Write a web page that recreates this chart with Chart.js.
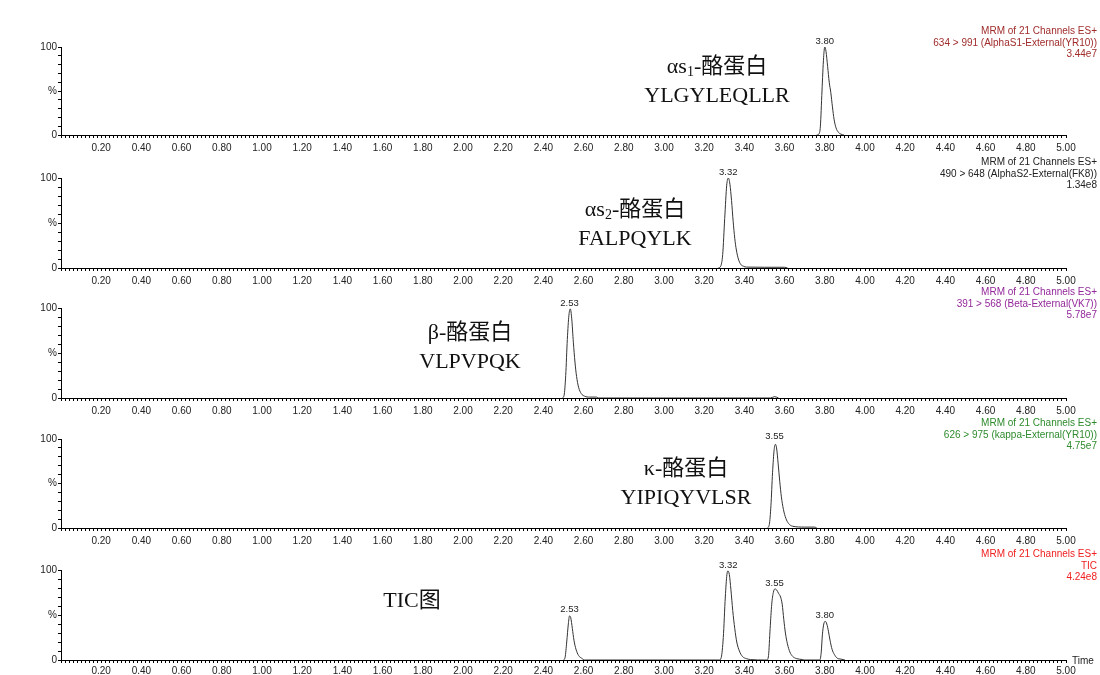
<!DOCTYPE html>
<html>
<head>
<meta charset="utf-8">
<script src="https://cdn.jsdelivr.net/npm/chart.js@4.4.1/dist/chart.umd.min.js"></script>
<style>
  body { margin: 0; background: #fff; width: 1100px; height: 675px; position: relative; overflow: hidden; }
  canvas { position: absolute; left: 0; }
  .hdr { position: absolute; right: 3px; text-align: right; font: 10px "Liberation Sans", Arial, sans-serif; line-height: 11.5px; white-space: nowrap; }
  .big { position: absolute; text-align: center; font: 22px "Liberation Serif", "Noto Sans CJK SC", serif; line-height: 29px; white-space: nowrap; color: #111; transform: translateX(-50%); }
  .big sub { font-size: 14px; vertical-align: -3px; line-height: 0; }
  .time { position: absolute; left: 1072px; top: 655px; font: 10px "Liberation Sans", Arial, sans-serif; color: #222; }
</style>
</head>
<body>
<canvas id="c1"></canvas>
<canvas id="c2"></canvas>
<canvas id="c3"></canvas>
<canvas id="c4"></canvas>
<canvas id="c5"></canvas>

<div class="hdr" style="top:25px;color:#a02c2c">MRM of 21 Channels ES+<br>634 &gt; 991 (AlphaS1-External(YR10))<br>3.44e7</div>
<div class="hdr" style="top:156px;color:#222">MRM of 21 Channels ES+<br>490 &gt; 648 (AlphaS2-External(FK8))<br>1.34e8</div>
<div class="hdr" style="top:286px;color:#93289a">MRM of 21 Channels ES+<br>391 &gt; 568 (Beta-External(VK7))<br>5.78e7</div>
<div class="hdr" style="top:417px;color:#2e8b2e">MRM of 21 Channels ES+<br>626 &gt; 975 (kappa-External(YR10))<br>4.75e7</div>
<div class="hdr" style="top:548px;color:#f02020">MRM of 21 Channels ES+<br>TIC<br>4.24e8</div>

<div class="big" style="left:717px;top:51px">αs<sub>1</sub>-酪蛋白<br>YLGYLEQLLR</div>
<div class="big" style="left:635px;top:194px">αs<sub>2</sub>-酪蛋白<br>FALPQYLK</div>
<div class="big" style="left:470px;top:317px">β-酪蛋白<br>VLPVPQK</div>
<div class="big" style="left:686px;top:453px">κ-酪蛋白<br>YIPIQYVLSR</div>
<div class="big" style="left:412px;top:585px">TIC图</div>
<div class="time">Time</div>

<script>
// retention time (min) and relative intensity (%) for each trace
var times1  = [3.760, 3.770, 3.778, 3.786, 3.794, 3.800, 3.806, 3.814, 3.822, 3.830, 3.838, 3.846, 3.856, 3.868, 3.880, 3.895];
var values1 = [0, 1, 10, 50, 88, 100, 95, 78, 60, 48, 32, 18, 8, 3, 1, 0];

var times2  = [3.270, 3.282, 3.292, 3.302, 3.312, 3.320, 3.328, 3.336, 3.344, 3.352, 3.360, 3.370, 3.382, 3.395, 3.410, 3.500, 3.600, 3.615];
var values2 = [0, 2, 15, 55, 92, 100, 93, 75, 52, 33, 20, 10, 4, 2, 1, 0.8, 0.8, 0];

var times3  = [2.495, 2.503, 2.511, 2.519, 2.527, 2.534, 2.541, 2.549, 2.557, 2.565, 2.575, 2.588, 2.605, 2.630, 2.665, 2.675, 3.530, 3.550, 3.570];
var values3 = [0, 3, 25, 65, 92, 99, 88, 62, 40, 24, 12, 5, 2, 1, 1, 0, 0, 1.5, 0];

var times4  = [3.515, 3.524, 3.532, 3.540, 3.548, 3.554, 3.560, 3.568, 3.576, 3.584, 3.594, 3.606, 3.620, 3.640, 3.700, 3.750, 3.760];
var values4 = [0, 4, 25, 62, 88, 94, 90, 72, 52, 35, 21, 11, 5, 2, 1, 1, 0];

var times5  = [2.500, 2.508, 2.516, 2.524, 2.530, 2.536, 2.544, 2.552, 2.562, 2.575, 2.590, 2.605,
               3.275, 3.285, 3.295, 3.305, 3.313, 3.318, 3.325, 3.333, 3.342, 3.352, 3.362, 3.375, 3.390, 3.410, 3.430, 3.500,
               3.512, 3.520, 3.528, 3.536, 3.544, 3.552, 3.560, 3.570, 3.580, 3.588, 3.596, 3.604, 3.614, 3.626, 3.640, 3.660, 3.690, 3.700,
               3.775, 3.782, 3.788, 3.795, 3.802, 3.810, 3.818, 3.826, 3.836, 3.848, 3.862, 3.880, 3.900];
var values5 = [0, 3, 20, 40, 49, 47, 35, 22, 12, 5, 2, 0,
               0, 3, 25, 70, 95, 99, 95, 78, 55, 35, 20, 10, 4, 1.5, 0.5, 0,
               0, 5, 35, 62, 75, 79, 78, 74, 70, 62, 45, 30, 18, 9, 4, 1.5, 0.5, 0,
               0, 8, 28, 40, 43, 40, 32, 22, 12, 6, 2, 1, 0];

// peak apex labels: time and height
var peaks1 = [[3.80, 100]];
var peaks2 = [[3.32, 100]];
var peaks3 = [[2.53, 99]];
var peaks4 = [[3.55, 97]];
var peaks5 = [[2.53, 50], [3.32, 99], [3.55, 79], [3.80, 43]];

// y pixel of 100% and 0% for each panel, and gap under the axis for tick labels
var panelTop    = [47, 178, 308, 439, 570];
var panelBottom = [135, 268, 398, 528, 660];
var labelGap    = [4, 4, 4, 4, 2];

var peakLabels = {
  id: 'peakLabels',
  afterDatasetsDraw: function(chart, args, opts) {
    var ctx = chart.ctx;
    var xs = chart.scales.x, ys = chart.scales.y;
    ctx.save();
    ctx.font = '9.5px "Liberation Sans", Arial, sans-serif';
    ctx.fillStyle = '#222';
    ctx.textAlign = 'center';
    ctx.textBaseline = 'bottom';
    (opts.peaks || []).forEach(function(p) {
      ctx.fillText(p[0].toFixed(2), xs.getPixelForValue(p[0]), ys.getPixelForValue(p[1]) - 1);
    });
    ctx.restore();
  }
};

var tickFont = { family: 'Liberation Sans', size: 10 };

function makePanel(id, n, times, values, peaks) {
  var padTop = 16;
  var h = panelBottom[n] - panelTop[n];
  var cv = document.getElementById(id);
  cv.width = 1100;
  cv.height = padTop + h + 22;
  cv.style.top = (panelTop[n] - padTop) + 'px';

  var pts = [];
  for (var i in times) {
    pts.push({ x: times[i], y: values[i] });
  }

  return new Chart(cv, {
    type: 'line',
    data: {
      datasets: [{
        data: pts,
        borderColor: '#333',
        borderWidth: 1,
        pointRadius: 0,
        fill: false,
        cubicInterpolationMode: 'monotone'
      }]
    },
    options: {
      responsive: false,
      animation: false,
      layout: { padding: { left: 0, right: 34, top: padTop, bottom: 0 } },
      plugins: {
        legend: { display: false },
        tooltip: { enabled: false },
        peakLabels: { peaks: peaks }
      },
      scales: {
        x: {
          type: 'linear',
          min: 0,
          max: 5,
          afterFit: function(s) { s.height = 22; },
          border: { color: '#000', width: 1 },
          grid: { drawOnChartArea: false, tickLength: 3, color: '#000' },
          ticks: {
            stepSize: 0.02,
            autoSkip: false,
            maxRotation: 0,
            padding: labelGap[n],
            color: '#222',
            font: tickFont,
            callback: function(v) {
              var k = Math.round(v * 100);
              return (k > 0 && k % 20 === 0) ? (k / 100).toFixed(2) : '';
            }
          }
        },
        y: {
          min: 0,
          max: 100,
          afterFit: function(s) { s.width = 61; },
          border: { color: '#000', width: 1 },
          grid: { drawOnChartArea: false, tickLength: 3, color: '#000' },
          ticks: {
            stepSize: 10,
            autoSkip: false,
            padding: 1,
            color: '#222',
            font: tickFont,
            callback: function(v) {
              if (v === 100) return '100';
              if (v === 50) return '%';
              if (v === 0) return '0';
              return '';
            }
          }
        }
      }
    },
    plugins: [peakLabels]
  });
}

makePanel('c1', 0, times1, values1, peaks1);
makePanel('c2', 1, times2, values2, peaks2);
makePanel('c3', 2, times3, values3, peaks3);
makePanel('c4', 3, times4, values4, peaks4);
makePanel('c5', 4, times5, values5, peaks5);
</script>
</body>
</html>
